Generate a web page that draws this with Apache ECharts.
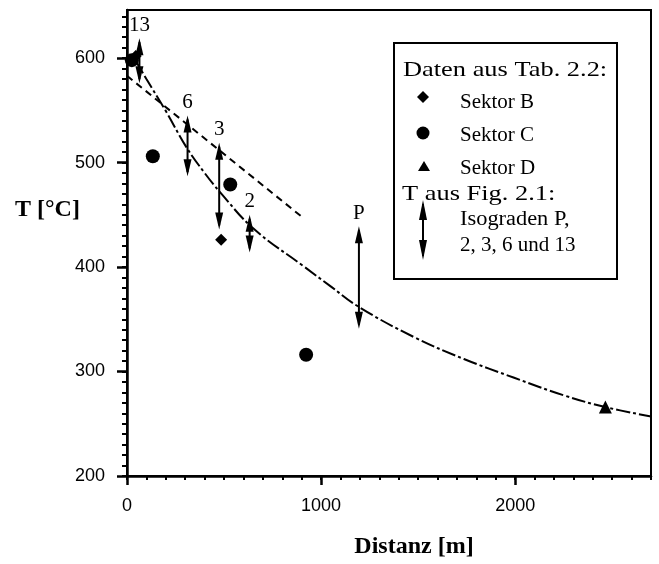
<!DOCTYPE html>
<html><head><meta charset="utf-8">
<script src="https://cdn.jsdelivr.net/npm/echarts@6/dist/echarts.min.js"></script>
<style>html,body{margin:0;padding:0;background:#fff}#c{width:659px;height:564px}</style>
</head><body><div id="c"></div>
<script>
// ---- data ----
const xTickLabels = [0, 1000, 2000];
const yTickLabels = [200, 300, 400, 500, 600];
const xMinorStep = 100;
const yMinorStep = 10;
const xMin = 0, xMax = 2700, yMin = 200, yMax = 646;

const sektorB = [[485, 426], [45, 602]];
const sektorC = [[25, 598], [133, 506], [532, 479], [923, 316]];
const sektorD = [[2465, 266]];

const isogradeNames = ['13', '6', '3', '2', 'P'];
const isogradeX     = [64, 312, 475, 632, 1195];
const isogradeLow   = [576, 487, 436, 414, 341];
const isogradeHigh  = [619, 545, 519, 450, 439];

const fitCurveX = [30, 100, 201, 305, 400, 478, 650, 908, 1046, 1193, 1478, 1736, 1995, 2254, 2464, 2700];
const fitCurveT = [602, 580, 549, 515, 490, 472, 437, 401, 382, 362, 333, 312, 294, 277, 266, 257];

const dashLineX = [0, 908];
const dashLineT = [583, 447];

// ---- build ----
const minorX = []; for (let v = xMin; v <= xMax; v += xMinorStep) minorX.push(v);
const minorY = []; for (let v = yMin; v <= yMax; v += yMinorStep) minorY.push(v);

const chart = echarts.init(document.getElementById('c'), null, {renderer: 'canvas'});
const serif = '"Liberation Serif", "Times New Roman", serif';
const sans = '"Liberation Sans", Arial, sans-serif';

const baseX = {type: 'value', min: xMin, max: xMax, position: 'bottom', splitLine: {show: false}};
const baseY = {type: 'value', min: yMin, max: yMax, position: 'left', splitLine: {show: false}};
const plain = v => String(v);

const option = {
  backgroundColor: '#fff',
  animation: false,
  grid: {left: 127, right: 8, top: 10, bottom: 70, show: true, borderColor: '#000', borderWidth: 2, backgroundColor: 'transparent'},
  xAxis: [
    Object.assign({}, baseX, {
      axisLine: {show: true, lineStyle: {color: '#000', width: 2.5}},
      axisTick: {show: true, inside: false, length: 4, customValues: minorX, lineStyle: {color: '#000', width: 2}},
      axisLabel: {show: true, customValues: xTickLabels, formatter: plain, margin: 21, color: '#000', fontFamily: sans, fontSize: 18},
      name: 'Distanz [m]', nameLocation: 'middle', nameGap: 59,
      nameTextStyle: {fontFamily: serif, fontWeight: 'bold', fontSize: 24, color: '#000', padding: [0, 0, 0, 50]}
    }),
    Object.assign({}, baseX, {
      axisLine: {show: false},
      axisTick: {show: true, inside: false, length: 9, customValues: xTickLabels, lineStyle: {color: '#000', width: 2.5}},
      axisLabel: {show: false}
    })
  ],
  yAxis: [
    Object.assign({}, baseY, {
      axisLine: {show: true, lineStyle: {color: '#000', width: 2.5}},
      axisTick: {show: true, inside: false, length: 5, customValues: minorY, lineStyle: {color: '#000', width: 2}},
      axisLabel: {show: true, customValues: yTickLabels, formatter: plain, margin: 22, color: '#000', fontFamily: sans, fontSize: 18}
    }),
    Object.assign({}, baseY, {
      axisLine: {show: false},
      axisTick: {show: true, inside: false, length: 10, customValues: yTickLabels, lineStyle: {color: '#000', width: 2.5}},
      axisLabel: {show: false}
    })
  ],
  series: [
    {
      type: 'line', xAxisIndex: 0, yAxisIndex: 0, smooth: 0.4, showSymbol: false, silent: true,
      data: fitCurveX.map((x, i) => [x, fitCurveT[i]]),
      lineStyle: {color: '#000', width: 2, type: [14, 3, 3, 3]}
    },
    {
      type: 'line', xAxisIndex: 0, yAxisIndex: 0, showSymbol: false, silent: true,
      data: dashLineX.map((x, i) => [x, dashLineT[i]]),
      lineStyle: {color: '#000', width: 2, type: [7, 5]}
    },
    {type: 'scatter', name: 'Sektor B', symbol: 'diamond', symbolSize: 12, itemStyle: {color: '#000', opacity: 1}, data: sektorB},
    {type: 'scatter', name: 'Sektor C', symbol: 'circle', symbolSize: 14, itemStyle: {color: '#000', opacity: 1}, data: sektorC},
    {type: 'scatter', name: 'Sektor D', symbol: 'triangle', symbolSize: 13, itemStyle: {color: '#000', opacity: 1}, data: sektorD},
    {
      type: 'custom', name: 'Isograden', clip: false,
      data: isogradeX.map((x, i) => [x, isogradeLow[i], isogradeHigh[i]]),
      renderItem: function (params, api) {
        const x = api.value(0), lo = api.value(1), hi = api.value(2);
        const top = api.coord([x, hi]);
        const bot = api.coord([x, lo]);
        const hw = 4, hl = 17;
        return {type: 'group', children: [
          {type: 'line', shape: {x1: top[0], y1: top[1] + 4, x2: bot[0], y2: bot[1] - 4}, style: {stroke: '#000', lineWidth: 2}},
          {type: 'polygon', shape: {points: [[top[0], top[1]], [top[0] - hw, top[1] + hl], [top[0] + hw, top[1] + hl]]}, style: {fill: '#000'}},
          {type: 'polygon', shape: {points: [[bot[0], bot[1]], [bot[0] - hw, bot[1] - hl], [bot[0] + hw, bot[1] - hl]]}, style: {fill: '#000'}},
          {type: 'text', style: {text: isogradeNames[params.dataIndex], x: top[0], y: top[1] - 13, align: 'center', verticalAlign: 'middle', fontFamily: serif, fontSize: 21, fill: '#000'}}
        ]};
      }
    }
  ],
  graphic: [
    {type: 'text', x: 15, y: 210, style: {text: 'T [°C]', fontFamily: serif, fontWeight: 'bold', fontSize: 24, fill: '#000', verticalAlign: 'middle'}},
    {type: 'rect', shape: {x: 394, y: 43, width: 223, height: 236}, style: {fill: '#fff', stroke: '#000', lineWidth: 2}, z: 10},
    {type: 'text', x: 403, y: 70, scaleX: 1.2, style: {text: 'Daten aus Tab. 2.2:', fontFamily: serif, fontSize: 22, fill: '#000', verticalAlign: 'middle'}, z: 11},
    {type: 'polygon', shape: {points: [[423, 91], [429, 97], [423, 103], [417, 97]]}, style: {fill: '#000'}, z: 11},
    {type: 'text', x: 460, y: 102, style: {text: 'Sektor B', fontFamily: serif, fontSize: 21, fill: '#000', verticalAlign: 'middle'}, z: 11},
    {type: 'circle', shape: {cx: 423, cy: 133, r: 6.5}, style: {fill: '#000'}, z: 11},
    {type: 'text', x: 460, y: 135, style: {text: 'Sektor C', fontFamily: serif, fontSize: 21, fill: '#000', verticalAlign: 'middle'}, z: 11},
    {type: 'polygon', shape: {points: [[424, 161], [430, 171], [418, 171]]}, style: {fill: '#000'}, z: 11},
    {type: 'text', x: 460, y: 168, style: {text: 'Sektor D', fontFamily: serif, fontSize: 21, fill: '#000', verticalAlign: 'middle'}, z: 11},
    {type: 'text', x: 402, y: 194, scaleX: 1.2, style: {text: 'T aus Fig. 2.1:', fontFamily: serif, fontSize: 22, fill: '#000', verticalAlign: 'middle'}, z: 11},
    {type: 'line', shape: {x1: 423, y1: 204, x2: 423, y2: 256}, style: {stroke: '#000', lineWidth: 2}, z: 11},
    {type: 'polygon', shape: {points: [[423, 200], [419, 220], [427, 220]]}, style: {fill: '#000'}, z: 11},
    {type: 'polygon', shape: {points: [[423, 260], [419, 240], [427, 240]]}, style: {fill: '#000'}, z: 11},
    {type: 'text', x: 460, y: 220, scaleX: 1.12, style: {text: 'Isograden P,', fontFamily: serif, fontSize: 20, fill: '#000', verticalAlign: 'middle'}, z: 11},
    {type: 'text', x: 460, y: 246, scaleX: 1.05, style: {text: '2, 3, 6 und 13', fontFamily: serif, fontSize: 20, fill: '#000', verticalAlign: 'middle'}, z: 11}
  ]
};
chart.setOption(option);
</script>
</body></html>
